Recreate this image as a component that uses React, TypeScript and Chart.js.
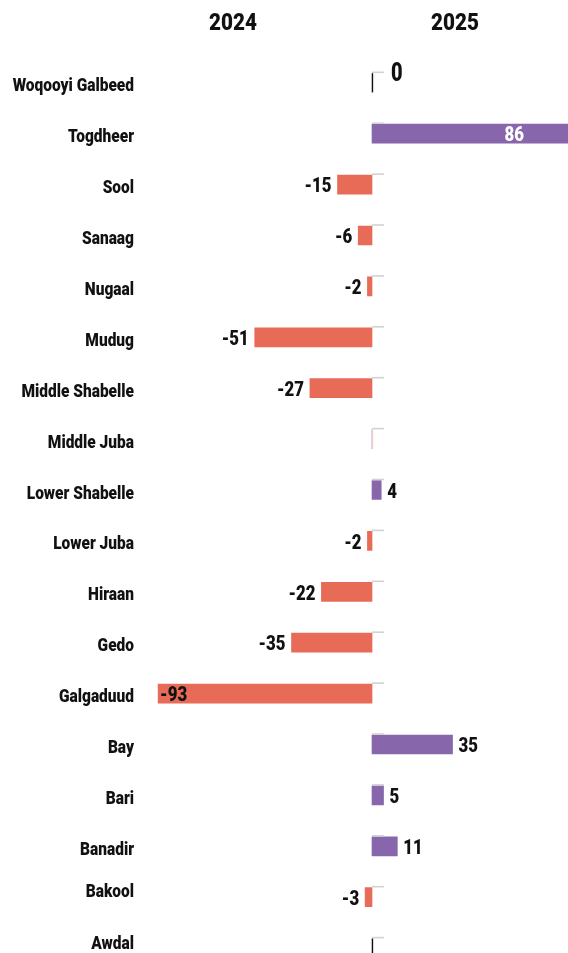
import React, { useEffect, useRef } from "react";
import { Chart, registerables } from "chart.js";

Chart.register(...registerables);

const regions = [
  "Woqooyi Galbeed",
  "Togdheer",
  "Sool",
  "Sanaag",
  "Nugaal",
  "Mudug",
  "Middle Shabelle",
  "Middle Juba",
  "Lower Shabelle",
  "Lower Juba",
  "Hiraan",
  "Gedo",
  "Galgaduud",
  "Bay",
  "Bari",
  "Banadir",
  "Bakool",
  "Awdal",
];
const change = [0, 86, -15, -6, -2, -51, -27, 0, 4, -2, -22, -35, -93, 35, 5, 11, -3, 0];
const yearHeaders = ["2024", "2025"];
const hiddenValueLabels = ["Middle Juba", "Awdal"];

const RED = "#E76B56";
const PURPLE = "#8766AB";
const FAMILY = "Roboto, 'Noto Sans', sans-serif";
// small vertical nudges of some category labels, as in the original layout
const LABEL_NUDGE: Record<string, number> = { Bakool: -9, Awdal: -8 };

function drawText(
  ctx: CanvasRenderingContext2D,
  text: string,
  x: number,
  y: number,
  align: CanvasTextAlign,
  size: number,
  color: string,
  sx: number,
  weight = "bold"
) {
  ctx.save();
  ctx.font = `${weight} ${size}px ${FAMILY}`;
  ctx.fillStyle = color;
  ctx.textAlign = align;
  ctx.textBaseline = "middle";
  ctx.translate(x, y);
  ctx.scale(sx, 1);
  ctx.fillText(text, 0, 0);
  ctx.restore();
}

function textWidth(ctx: CanvasRenderingContext2D, text: string, size: number, sx: number, weight = "bold") {
  ctx.save();
  ctx.font = `${weight} ${size}px ${FAMILY}`;
  const w = ctx.measureText(text).width * sx;
  ctx.restore();
  return w;
}

const labelPlugin = {
  id: "divergingLabels",
  afterDatasetsDraw(chart: any) {
    const ctx: CanvasRenderingContext2D = chart.ctx;
    const xs = chart.scales.x;
    const ys = chart.scales.y;
    const area = chart.chartArea;
    const x0 = xs.getPixelForValue(0);
    const VW = "900";
    const VSX = 0.8;

    // headers
    drawText(ctx, yearHeaders[0], 233, 24, "center", 24, "#111", 0.86, VW);
    drawText(ctx, yearHeaders[1], 455, 24, "center", 24, "#111", 0.86, VW);

    regions.forEach((name, i) => {
      const cy = ys.getPixelForValue(i);
      const v = change[i];

      // category label
      drawText(ctx, name, 134, cy + 4 + (LABEL_NUDGE[name] || 0), "right", 18, "#111", 0.86, VW);

      // small grey tick
      ctx.save();
      ctx.strokeStyle = "#d2d2d2";
      ctx.lineWidth = 1.6;
      ctx.beginPath();
      ctx.moveTo(x0, cy - 10.5);
      ctx.lineTo(x0 + 12, cy - 10.5);
      ctx.stroke();
      ctx.restore();

      if (v === 0) {
        ctx.save();
        ctx.strokeStyle = name === "Middle Juba" ? "#f6cfc6" : "#111";
        ctx.lineWidth = 1.3;
        ctx.beginPath();
        ctx.moveTo(x0 + 0.5, cy - 9.5);
        ctx.lineTo(x0 + 0.5, cy + 9.5);
        ctx.stroke();
        ctx.restore();
      }

      if (hiddenValueLabels.includes(name)) return;
      const txt = String(v);
      const size = 21;
      const w = textWidth(ctx, txt, size, VSX, VW);
      const ty = cy + 2.5;
      if (v === 0) {
        drawText(ctx, txt, x0 + 19, cy - 8, "left", 25, "#111", VSX, VW);
      } else if (v > 0) {
        const xe = xs.getPixelForValue(v);
        if (xe + 6 + w > area.right) {
          drawText(ctx, txt, Math.min(xe, area.right) - 44, ty, "right", size, "#fff", VSX, VW);
        } else {
          drawText(ctx, txt, xe + 6, ty, "left", size, "#111", VSX, VW);
        }
      } else {
        const xb = xs.getPixelForValue(v);
        if (xb - 6 - w < area.left) {
          drawText(ctx, txt, xb + 2, ty, "left", size, "#111", VSX, VW);
        } else {
          drawText(ctx, txt, xb - 6, ty, "right", size, "#111", VSX, VW);
        }
      }
    });
  },
};

export default function App() {
  const ref = useRef<HTMLCanvasElement | null>(null);

  useEffect(() => {
    document.body.style.margin = "0";
    const canvas = ref.current;
    if (!canvas) return;
    const chart = new Chart(canvas, {
      type: "bar",
      data: {
        labels: regions,
        datasets: [
          {
            data: change,
            backgroundColor: change.map((v) => (v < 0 ? RED : PURPLE)),
            borderWidth: 0,
            barThickness: 19,
          },
        ],
      },
      options: {
        indexAxis: "y",
        responsive: false,
        animation: false,
        devicePixelRatio: 1,
        layout: { padding: { left: 142, right: 0, top: 57.35, bottom: 0.45 } },
        plugins: {
          legend: { display: false },
          tooltip: { enabled: false },
          title: { display: false },
        },
        scales: {
          x: { display: false, min: -100, max: 85.2 },
          y: { display: false },
        },
      },
      plugins: [labelPlugin],
    } as any);
    return () => chart.destroy();
  }, []);

  return (
    <div style={{ width: 568, height: 953, overflow: "hidden", background: "#fff" }}>
      <canvas ref={ref} width={568} height={974} style={{ display: "block" }} />
    </div>
  );
}
